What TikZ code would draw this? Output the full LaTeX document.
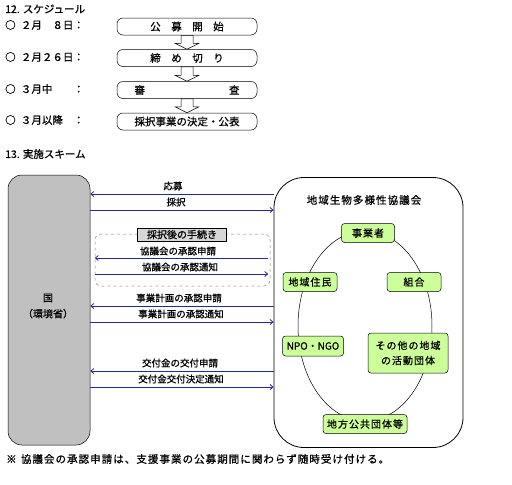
\documentclass[tikz,border=0pt]{standalone}
\usepackage{fontspec}
\newfontfamily\jp[FakeBold=0.8]{Noto Sans CJK JP}
\newfontfamily\jpw[LetterSpace=10,FakeBold=0.8]{Noto Sans CJK JP}
\usetikzlibrary{positioning,arrows.meta,calc,shapes.geometric}
\definecolor{msgblue}{RGB}{40,40,150}
\definecolor{grn}{RGB}{204,255,153}
\definecolor{govgray}{RGB}{192,192,192}
\definecolor{tabgray}{RGB}{215,215,215}

\begin{document}
\begin{tikzpicture}[x=1pt, y=-1pt,
  txt/.style={font=\jp\fontsize{10.5}{12}\selectfont, inner sep=0pt, anchor=west},
  lbl/.style={font=\jp\fontsize{9.5}{11}\selectfont, inner sep=0pt},
  schbox/.style={draw, line width=0.5pt, rounded corners=6pt, minimum width=140pt, minimum height=17pt,
    font=\jp\fontsize{10.5}{12}\selectfont, inner sep=0pt},
  grnbox/.style={draw, line width=0.5pt, rounded corners=3pt, fill=grn, font=\jpw\fontsize{10}{15}\selectfont,
    align=center, inner sep=1pt},
  msg/.style={draw=msgblue, line width=0.8pt, -{Straight Barb[length=3pt,width=5pt]}},
  hollow/.style={draw, fill=white, line width=0.5pt, line join=miter}
]
\useasboundingbox (0,0) rectangle (512,485);

% schedule
\node[txt] (nh12) at (5,9) {12. スケジュール};
\node[txt] (nd1) at (5,25) {○\hspace{.5em}２月　８日：};
\node[txt] (nd2) at (5,57) {○\hspace{.5em}２月２６日：};
\node[txt] (nd3) at (5,89) {○\hspace{.5em}３月中　　：};
\node[txt] (nd4) at (5,120) {○\hspace{.5em}３月以降　：};
\node[schbox] (ns1) at (187,26.5) {公　募　開　始};
\node[schbox] (ns2) at (187,58) {締　め　切　り};
\node[schbox] (ns3) at (187,90) {審　　　　　　　　査};
\node[schbox] (ns4) at (187,121.5) {採択事業の決定・公表};
\foreach \a/\b in {ns1/ns2,ns2/ns3,ns3/ns4}
  \draw[hollow] ($(\a.south)+(-6,0)$) -- ($(\b.north)+(-6,-6)$) -- ($(\b.north)+(-12,-6)$) -- (\b.north)
    -- ($(\b.north)+(12,-6)$) -- ($(\b.north)+(6,-6)$) -- ($(\a.south)+(6,0)$) -- cycle;

% scheme
\node[txt] (nh13) at (5,154) {13. 実施スキーム};
\node[draw, fill=govgray, line width=0.5pt, rounded corners=14pt, minimum width=82pt, minimum height=270pt]
  (ngov) at (49,310) {};
\node[lbl, font=\jp\fontsize{10}{16}\selectfont, align=center] (ngovt) at (48,306) {国\\（環境省）};
\node[draw, line width=0.8pt, rounded corners=30pt, minimum width=189pt, minimum height=270pt]
  (nkyo) at (368.5,312.5) {};
\node[lbl, font=\jpw\fontsize{10.5}{12}\selectfont] (nkyot) at (364,200) {地域生物多様性協議会};
\node[draw, ellipse, line width=0.5pt, minimum width=134pt, minimum height=190pt] (nell) at (365,326) {};
\node[grnbox, minimum width=53pt, minimum height=19pt] (njig) at (368,233) {事業者};
\node[grnbox, minimum width=54pt, minimum height=19pt] (njum) at (310,282) {地域住民};
\node[grnbox, minimum width=54pt, minimum height=19pt] (nkum) at (414,282) {組合};
\node[grnbox, minimum width=61pt, minimum height=20pt, font=\jp\fontsize{10}{12}\selectfont] (nnpo) at (313,346) {NPO・NGO};
\node[grnbox, minimum width=80pt, minimum height=40pt] (nsono) at (408,353) {その他の地域\\の活動団体};
\node[grnbox, minimum width=84pt, minimum height=19pt] (nchi) at (365,424) {地方公共団体等};

% messages
\node[lbl] (l1) at (173,186) {応募};
\node[lbl] (l2) at (176,202) {採択};
\draw[msg] ($(nkyo.west |- l1)+(0,8)$) -- ($(ngov.east |- l1)+(0,8)$);
\draw[msg] ($(ngov.east |- l2)+(0,8)$) -- ($(nkyo.west |- l2)+(0,8)$);

\node[draw=gray, dashed, line width=0.5pt, rounded corners=6pt, minimum width=175pt, minimum height=52pt]
  (ndash) at (182.5,260) {};
\node[draw, fill=tabgray, line width=0.5pt, inner sep=0pt, minimum width=89pt, minimum height=13pt,
  font=\jp\fontsize{10}{12}\selectfont] (ntab) at (182,234.5) {採択後の手続き};
\node[lbl] (l3) at (178,251) {協議会の承認申請};
\node[lbl] (l4) at (180,267) {協議会の承認通知};
\draw[msg] ($(ndash.east |- l3)+(-2,7)$) -- ($(ndash.west |- l3)+(0,7)$);
\draw[msg] ($(ndash.west |- l4)+(0,7)$) -- ($(ndash.east |- l4)+(-2,7)$);

\node[lbl] (l5) at (179,298) {事業計画の承認申請};
\node[lbl] (l6) at (181,314) {事業計画の承認通知};
\draw[msg] ($(nkyo.west |- l5)+(0,8)$) -- ($(ngov.east |- l5)+(0,8)$);
\draw[msg] ($(ngov.east |- l6)+(0,8)$) -- ($(nkyo.west |- l6)+(0,8)$);

\node[lbl] (l7) at (180,363) {交付金の交付申請};
\node[lbl] (l8) at (181,379) {交付金交付決定通知};
\draw[msg] ($(nkyo.west |- l7)+(0,8)$) -- ($(ngov.east |- l7)+(0,8)$);
\draw[msg] ($(ngov.east |- l8)+(0,8)$) -- ($(nkyo.west |- l8)+(0,8)$);

\node[txt, font=\jpw\fontsize{10.5}{12}\selectfont] (nnote) at (6,459)
  {※\hspace{.4em}協議会の承認申請は、支援事業の公募期間に関わらず随時受け付ける。};

\end{tikzpicture}
\end{document}
